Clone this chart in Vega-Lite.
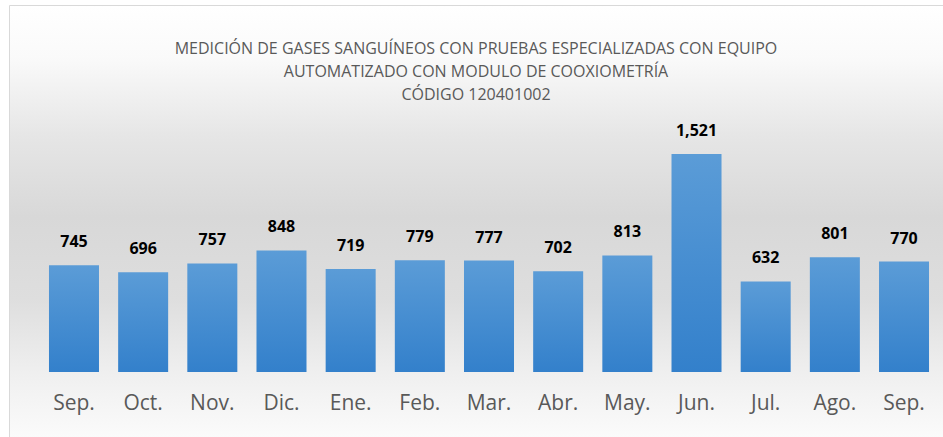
{
  "$schema": "https://vega.github.io/schema/vega-lite/v6.json",
  "width": 934,
  "height": 432,
  "autosize": {"type": "none"},
  "padding": {"left": 9, "top": 5, "right": 0, "bottom": 0},
  "background": "#ffffff",
  "title": {
    "text": ["MEDICIÓN DE GASES SANGUÍNEOS CON PRUEBAS ESPECIALIZADAS CON EQUIPO", "AUTOMATIZADO CON MODULO DE COOXIOMETRÍA", "CÓDIGO 120401002"],
    "font": "Open Sans",
    "fontSize": 16,
    "fontWeight": "normal",
    "color": "#595959",
    "lineHeight": 23,
    "offset": -98,
    "anchor": "middle",
    "frame": "group"
  },
  "data": {
    "values": [
      {"periodo": "Sep. 2022", "valor": 745},
      {"periodo": "Oct. 2022", "valor": 696},
      {"periodo": "Nov. 2022", "valor": 757},
      {"periodo": "Dic. 2022", "valor": 848},
      {"periodo": "Ene. 2023", "valor": 719},
      {"periodo": "Feb. 2023", "valor": 779},
      {"periodo": "Mar. 2023", "valor": 777},
      {"periodo": "Abr. 2023", "valor": 702},
      {"periodo": "May. 2023", "valor": 813},
      {"periodo": "Jun. 2023", "valor": 1521},
      {"periodo": "Jul. 2023", "valor": 632},
      {"periodo": "Ago. 2023", "valor": 801},
      {"periodo": "Sep. 2023", "valor": 770}
    ]
  },
  "encoding": {
    "x": {
      "field": "periodo",
      "type": "ordinal",
      "sort": null,
      "scale": {"paddingInner": 0.277, "paddingOuter": 0.39, "align": 0.741},
      "axis": {
        "orient": "bottom",
        "offset": -65,
        "labelPadding": 20,
        "domain": false,
        "ticks": false,
        "grid": false,
        "title": null,
        "labelAngle": 0,
        "labelFont": "Open Sans",
        "labelFontSize": 21,
        "labelColor": "#595959",
        "labelExpr": "split(datum.label, ' ')[0]"
      }
    },
    "y": {
      "field": "valor",
      "type": "quantitative",
      "scale": {"domain": [-454, 2561], "nice": false, "zero": false},
      "axis": null
    }
  },
  "layer": [
    {
      "mark": {
        "type": "bar",
        "fill": {
          "gradient": "linear",
          "x1": 0, "y1": 0, "x2": 0, "y2": 1,
          "stops": [
            {"offset": 0, "color": "#5b9cd7"},
            {"offset": 1, "color": "#3380cb"}
          ]
        }
      },
      "encoding": {"y2": {"datum": 0}}
    },
    {
      "mark": {
        "type": "text",
        "baseline": "alphabetic",
        "dy": -18,
        "font": "Open Sans",
        "fontSize": 16,
        "fontWeight": "bold",
        "color": "#000000"
      },
      "encoding": {"text": {"field": "valor", "type": "quantitative", "format": ","}}
    }
  ],
  "config": {
    "view": {
      "stroke": "#d9d9d9",
      "strokeWidth": 1,
      "fill": {
        "gradient": "linear",
        "x1": 0, "y1": 0, "x2": 0, "y2": 1,
        "stops": [
          {"offset": 0, "color": "#ffffff"},
          {"offset": 0.12, "color": "#fafafa"},
          {"offset": 0.3, "color": "#e6e6e6"},
          {"offset": 0.49, "color": "#d8d8d8"},
          {"offset": 0.68, "color": "#dedede"},
          {"offset": 0.85, "color": "#efefef"},
          {"offset": 1, "color": "#fbfbfb"}
        ]
      }
    }
  }
}
